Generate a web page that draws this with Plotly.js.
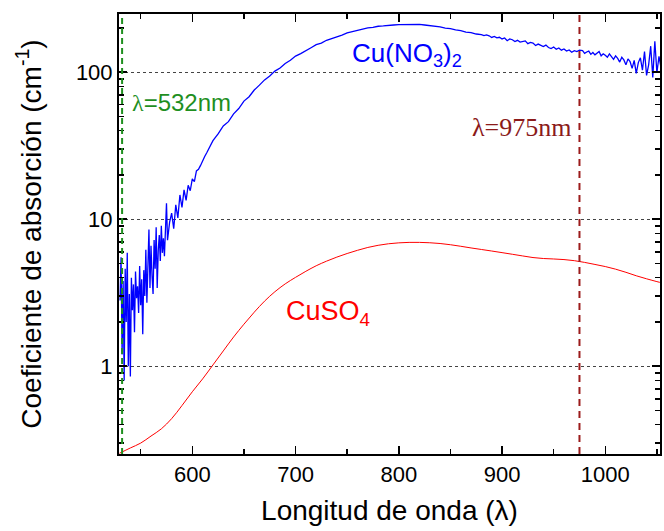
<!DOCTYPE html>
<html>
<head>
<meta charset="utf-8">
<script src="https://cdn.plot.ly/plotly-3.0.1.min.js"></script>
<style>html,body{margin:0;padding:0;background:#fff;}#chart{width:664px;height:531px;}</style>
</head>
<body>
<div id="chart"></div>
<script>
// Cu(NO3)2 absorption (cm^-1) vs wavelength (nm)
var cuno3Wavelength = [
530,531,532,533,534,535,536,537,538,539,540,541,542,543,544,545,546,547,548,549,550,551,552,553,554,555,556,557,558,559,560,561,562,563,564,565,566,567,568,569,570,571,572,573,574,575,576,
578,580,582,584,586,588,590,592,594,596,598,600,602,604,606,608,610,612,614,616,618,620,
625,630,635,640,645,650,655,660,665,670,675,680,685,690,695,700,705,710,715,720,725,730,735,740,745,750,755,760,765,770,775,780,785,790,795,800,805,810,815,820,825,830,835,840,845,850,855,860,865,870,875,
880,882.5,885,887.5,890,892.5,895,897.5,900,902.5,905,907.5,910,912.5,915,917.5,920,922.5,925,927.5,930,932.5,935,937.5,940,942.5,945,947.5,950,952.5,955,957.5,960,962.5,965,967.5,970,972.5,975,
978,980,982,984,986,988,990,992,994,996,998,1000,1002,1004,1006,1008,1010,1012,1014,1016,1018,1020,1022,1024,1026,1028,1030,1032,1034,1036,1038,1040,1042,1044,1046,1048,1050,1052,1054
];
var cuno3Absorption = [
2.8,5.5,1.2,3.8,0.8,4.6,2.0,5.9,1.0,3.1,0.85,4.0,2.4,3.6,1.7,4.4,2.9,3.5,2.3,4.8,2.6,3.9,1.65,4.5,3.0,6.2,2.7,5.0,8.5,3.4,6.6,4.1,3.1,7.2,4.6,8.8,3.4,6.1,7.8,5.2,9.0,5.9,7.4,5.6,8.3,12.8,7.2,
9.5,11.0,8.6,12.5,10.2,14.6,12.0,15.8,13.4,17.0,15.6,18.8,18.0,21.3,21.8,23.2,25.2,26.7,28.3,30.2,32.3,34.2,
38.0,43.0,46.0,52.0,56.5,63.5,68.0,75.5,81.5,88.5,94.0,101.5,106.5,114.5,120.5,128.5,133.5,140.5,146.5,153.5,157.5,164.5,168.5,174.5,178.5,184.5,188.5,193,195.5,200,201.5,205,206,208.5,209,210.5,210.5,211.5,210.5,211,209,207.5,204.5,203,199,197.5,193.5,191.5,187,185.5,181.5,
180,177,179,176.5,172,175,171,172.5,168,170.5,163.5,168,166,161.5,164.5,160,162.5,163,156,159,157.5,151.5,155,152,149,152.5,147,144.5,148,143,146,141,143.5,139,141.5,136.5,140,138,141,
140,134,137,139,132,136,131,135,138,129,133,130,126,133,128,122,129,124,117,126,121,112,123,118,106,120,98,116,125,103,138,95,112,150,92,162,99,128,107
];

// CuSO4 absorption (cm^-1) vs wavelength (nm)
var cuso4Wavelength = [529.5,540,550,560,570,580,590,600,610,620,630,640,650,660,670,680,690,700,710,720,730,740,750,760,770,780,790,800,810,820,830,840,850,860,870,880,890,900,910,920,930,940,950,960,970,980,990,1000,1010,1020,1030,1040,1050,1056];
var cuso4Absorption = [0.256,0.278,0.30,0.335,0.375,0.44,0.54,0.67,0.82,1.02,1.27,1.58,1.93,2.33,2.77,3.21,3.63,4.02,4.42,4.82,5.18,5.52,5.84,6.14,6.42,6.64,6.80,6.90,6.95,6.95,6.91,6.83,6.70,6.54,6.37,6.22,6.07,5.92,5.77,5.62,5.48,5.40,5.36,5.31,5.22,5.08,4.92,4.76,4.57,4.35,4.12,3.93,3.76,3.67];

var xTickVals = [600, 700, 800, 900, 1000];
var yTickVals = [1, 10, 100];
var yTickText = ['1', '10', '100'];
var markerWavelengths = [532, 975];

var traces = [
  {x: cuno3Wavelength, y: cuno3Absorption, type: 'scatter', mode: 'lines', line: {color: '#0000ff', width: 1.3}, hoverinfo: 'skip'},
  {x: cuso4Wavelength, y: cuso4Absorption, type: 'scatter', mode: 'lines', line: {color: '#ff0000', width: 1, shape: 'spline', smoothing: 1}, hoverinfo: 'skip'}
];

var layout = {
  width: 664, height: 531,
  margin: {l: 119, r: 4, t: 14, b: 77},
  paper_bgcolor: '#ffffff', plot_bgcolor: '#ffffff',
  showlegend: false,
  font: {family: 'Liberation Sans, Arial, sans-serif', color: '#000', size: 22},
  xaxis: {
    range: [529, 1053],
    tickvals: xTickVals,
    ticks: 'inside', ticklen: 8, tickwidth: 1.5, tickcolor: '#000',
    minor: {ticks: 'inside', dtick: 50, tick0: 0, ticklen: 5, tickwidth: 1.5, tickcolor: '#000'},
    showline: true, linecolor: '#000', linewidth: 2, mirror: 'ticks',
    showgrid: false, zeroline: false,
    tickfont: {size: 22},
    title: {text: 'Longitud de onda (λ)', font: {size: 28}, standoff: 14}
  },
  yaxis: {
    type: 'log',
    range: [-0.597, 2.395],
    tickvals: yTickVals, ticktext: yTickText,
    ticks: 'inside', ticklen: 8, tickwidth: 1.5, tickcolor: '#000',
    minor: {ticks: 'inside', dtick: 'D1', ticklen: 5, tickwidth: 1.5, tickcolor: '#000', showgrid: false},
    showline: true, linecolor: '#000', linewidth: 2, mirror: 'ticks',
    showgrid: true, gridcolor: '#444', griddash: '3px,3px', gridwidth: 1,
    zeroline: false,
    tickfont: {size: 22},
    title: {text: 'Coeficiente de absorción (cm<sup>-1</sup>)', font: {size: 28}, standoff: 26}
  },
  shapes: [
    {type: 'line', xref: 'x', yref: 'paper', x0: markerWavelengths[0], x1: markerWavelengths[0], y0: 0, y1: 1, line: {color: '#1f8f1f', width: 2, dash: '6px,4px'}},
    {type: 'line', xref: 'x', yref: 'paper', x0: markerWavelengths[1], x1: markerWavelengths[1], y0: 0, y1: 1, line: {color: '#9b1b1b', width: 2, dash: '7px,5px'}}
  ],
  annotations: [
    {xref: 'x', yref: 'y', x: 539.4, y: 1.791, xanchor: 'left', yanchor: 'middle', showarrow: false,
     text: '<span style="font-family:Liberation Serif">λ</span>=532nm', font: {color: '#1f8f1f', size: 24, family: 'Liberation Sans, Arial'}},
    {xref: 'x', yref: 'y', x: 868.5, y: 1.621, xanchor: 'left', yanchor: 'middle', showarrow: false,
     text: 'λ=975nm', font: {color: '#8b1a1a', size: 26, family: 'Liberation Serif, Times New Roman, serif'}},
    {xref: 'x', yref: 'y', x: 752.3, y: 2.12, xanchor: 'left', yanchor: 'middle', showarrow: false,
     text: 'Cu(NO<sub>3</sub>)<sub>2</sub>', font: {color: '#0000ff', size: 26}},
    {xref: 'x', yref: 'y', x: 688.4, y: 0.36, xanchor: 'left', yanchor: 'middle', showarrow: false,
     text: 'CuSO<sub>4</sub>', font: {color: '#ff0000', size: 27}}
  ]
};

Plotly.newPlot('chart', traces, layout, {staticPlot: true, displayModeBar: false});
</script>
</body>
</html>
